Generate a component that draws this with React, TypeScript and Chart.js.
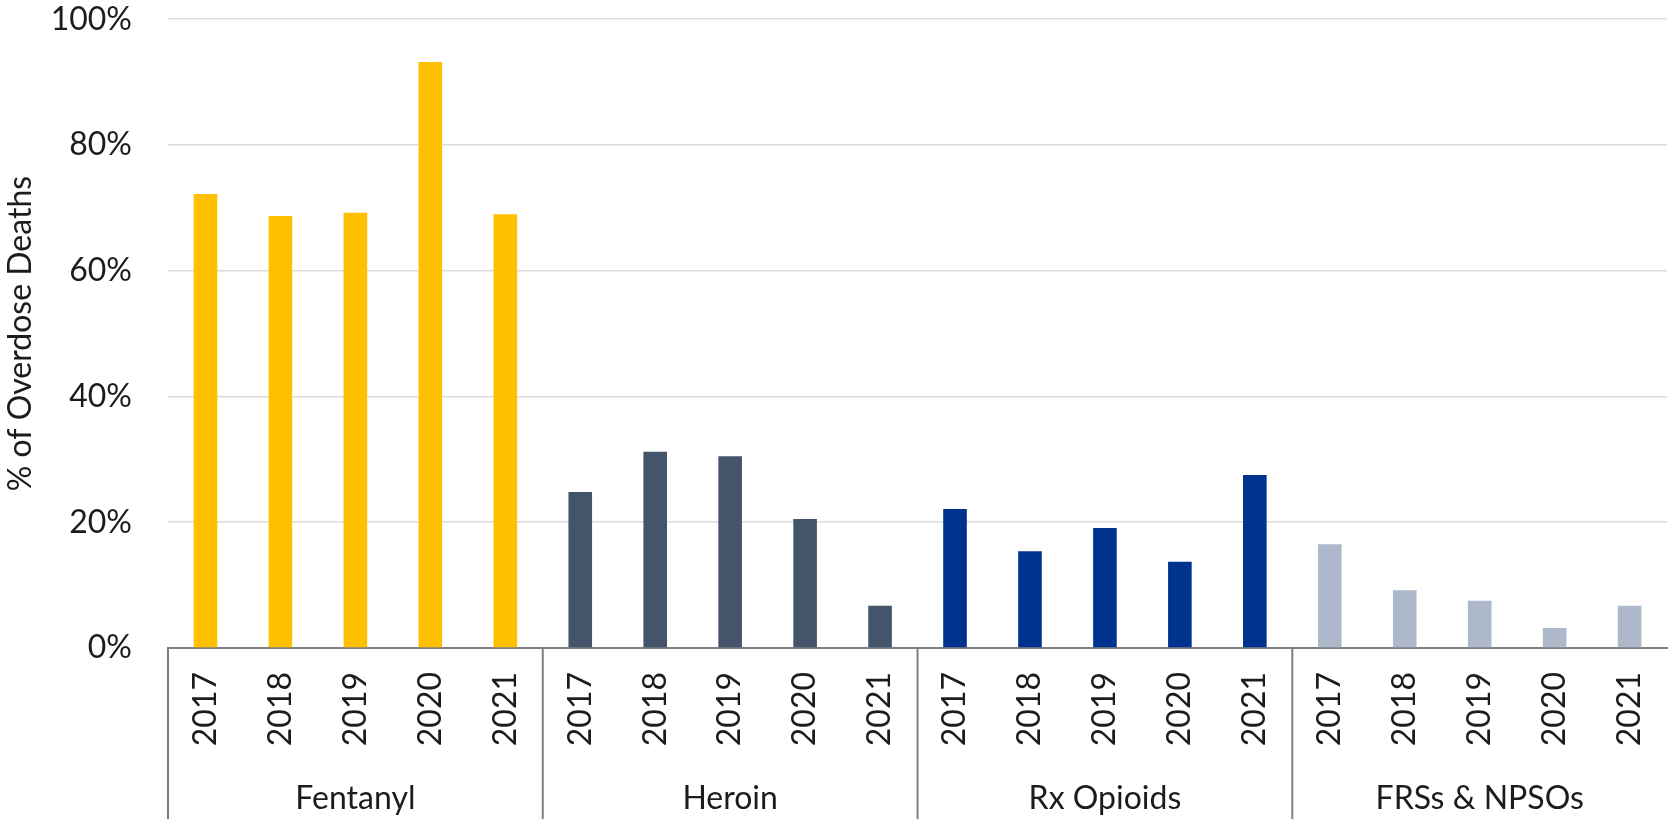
import React, { useEffect, useRef } from "react";
import { Chart, registerables } from "chart.js";

Chart.register(...registerables);

const groups = ["Fentanyl", "Heroin", "Rx Opioids", "FRSs & NPSOs"];
const years = ["2017", "2018", "2019", "2020", "2021"];
const fentanyl = [72.2, 68.7, 69.2, 93.2, 69.0];
const heroin = [24.8, 31.2, 30.5, 20.5, 6.7];
const rxOpioids = [22.1, 15.4, 19.1, 13.7, 27.5];
const frsNpsos = [16.5, 9.2, 7.5, 3.2, 6.7];
const groupColors = ["#FFC000", "#44546A", "#00338D", "#ADB9CA"];
const yAxisTitle = "% of Overdose Deaths";

const FONT = "Lato";
const TEXT = "#1c1c1c";
const AXIS = "#7f7f7f";
const CLEAR = "rgba(0,0,0,0)";

export default function App() {
  const ref = useRef<HTMLCanvasElement | null>(null);

  useEffect(() => {
    if (!ref.current) return;
    const series = [fentanyl, heroin, rxOpioids, frsNpsos];
    const labels: string[] = [];
    const values: number[] = [];
    const colors: string[] = [];
    series.forEach((s, gi) => {
      s.forEach((v, i) => {
        labels.push(years[i]);
        values.push(v);
        colors.push(groupColors[gi]);
      });
    });

    const separators = {
      id: "groupSeparators",
      afterDraw(chart: any) {
        const ctx = chart.ctx;
        const xs = chart.scales.x;
        const top = chart.chartArea.bottom;
        const bottom = chart.height;
        ctx.save();
        ctx.strokeStyle = AXIS;
        ctx.lineWidth = 2;
        for (let g = 0; g <= groups.length; g++) {
          const x = xs.getPixelForValue(g * years.length - 0.5);
          if (x > chart.width - 1) continue;
          ctx.beginPath();
          ctx.moveTo(Math.max(x, 1), top);
          ctx.lineTo(Math.max(x, 1), bottom);
          ctx.stroke();
        }
        ctx.restore();
      },
    };

    const chart = new Chart(ref.current, {
      type: "bar",
      data: {
        labels,
        datasets: [
          {
            data: values,
            backgroundColor: colors,
            categoryPercentage: 1,
            barPercentage: 0.315,
            xAxisID: "x",
          },
        ],
      },
      options: {
        animation: false,
        responsive: true,
        maintainAspectRatio: false,
        layout: { padding: { left: 0, right: 0, top: 0, bottom: 0 } },
        plugins: { legend: { display: false }, tooltip: { enabled: false } },
        scales: {
          x: {
            type: "category",
            position: "bottom",
            weight: 0,
            offset: true,
            grid: {
              display: true,
              drawOnChartArea: false,
              drawTicks: true,
              tickLength: 24,
              tickColor: CLEAR,
              color: CLEAR,
            },
            border: { display: true, color: AXIS, width: 2 },
            ticks: {
              minRotation: 90,
              maxRotation: 90,
              autoSkip: false,
              padding: 0,
              color: TEXT,
              font: { family: FONT, size: 32 },
            },
            afterFit: (s: any) => {
              s.height = 122;
            },
          },
          x2: {
            type: "category",
            position: "bottom",
            weight: 1,
            labels: groups,
            offset: true,
            grid: { display: false, drawTicks: false },
            border: { display: false },
            ticks: {
              padding: 9,
              color: TEXT,
              font: { family: FONT, size: 32 },
              autoSkip: false,
              maxRotation: 0,
            },
            afterFit: (s: any) => {
              s.height = 49;
            },
          },
          y: {
            min: 0,
            max: 100,
            grid: {
              color: "#DCDCDC",
              lineWidth: 1.5,
              drawTicks: true,
              tickLength: 36,
              tickColor: CLEAR,
            },
            border: { display: false },
            ticks: {
              stepSize: 20,
              padding: 0,
              color: TEXT,
              font: { family: FONT, size: 32 },
              callback: (v: any) => v + "%",
            },
            title: {
              display: true,
              text: yAxisTitle,
              color: TEXT,
              font: { family: FONT, size: 32 },
              padding: { top: 1, bottom: 0 },
            },
            afterFit: (s: any) => {
              s.width = 168;
            },
          },
        },
      },
      plugins: [separators],
    });
    return () => chart.destroy();
  }, []);

  return (
    <div style={{ position: "absolute", left: 0, top: 0, width: 1668, height: 819, background: "#fff" }}>
      <canvas ref={ref} />
    </div>
  );
}
